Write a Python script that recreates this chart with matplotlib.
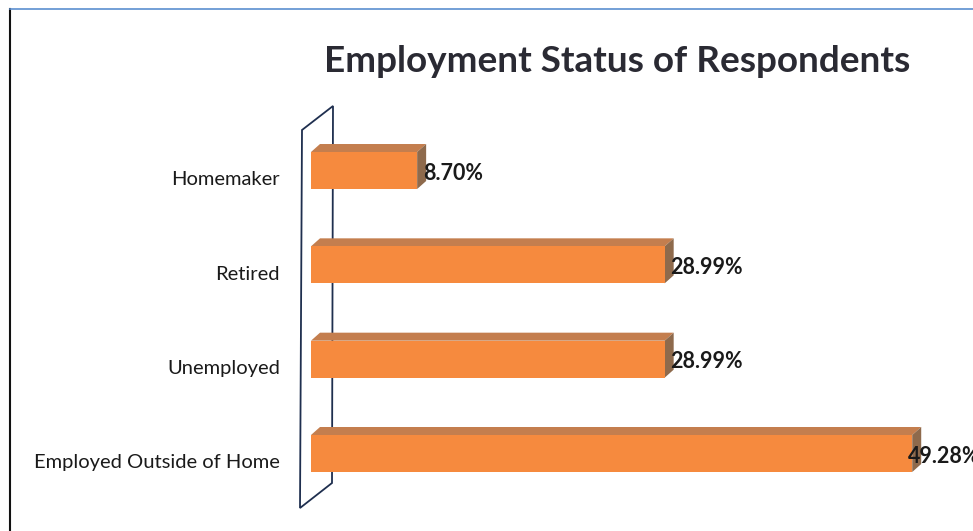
import matplotlib
matplotlib.use('Agg')
from matplotlib import pyplot as plt
from matplotlib.patches import Polygon

categories = ['Employed Outside of Home', 'Unemployed', 'Retired', 'Homemaker']
values = [49.28, 28.99, 28.99, 8.70]
value_labels = ['49.28%', '28.99%', '28.99%', '8.70%']

plt.rcParams['font.family'] = ['Lato', 'DejaVu Sans']

W, H = 973, 531
fig = plt.figure(figsize=(W / 100, H / 100), dpi=100)
ax = fig.add_axes([0, 0, 1, 1])

# pixel mapping: value 0 at x=311, 12.2 px per percent; category i centre at 453.5 - 94.33*i from top
px_per = 12.2
x0 = 311
row = 94.33
y_bottom = 453.5
ax.set_xlim(-x0 / px_per, (W - x0) / px_per)
ax.set_ylim((y_bottom - H) / row, y_bottom / row)
ax.axis('off')

def px(x, y):
    # figure pixels (from top) -> data coords
    return ((x - x0) / px_per, (y_bottom - y) / row)

front = '#F68A3E'
top = '#C47E4E'
side = '#8E6A4C'
bar_h = 37 / row
ddx = 9 / px_per
ddy = 8 / row

# back wall
wall = [px(302, 130), px(333, 106), px(332, 483), px(300, 508)]
ax.add_patch(Polygon(wall, closed=True, fill=False, edgecolor='#1F2F4F', lw=1.3, zorder=1))

for i, (cat, v, lab) in enumerate(zip(categories, values, value_labels)):
    y0 = i - bar_h / 2
    y1 = i + bar_h / 2
    ax.add_patch(Polygon([(0, y1), (v, y1), (v + ddx, y1 + ddy), (ddx, y1 + ddy)],
                         closed=True, facecolor=top, edgecolor='none', zorder=2))
    ax.add_patch(Polygon([(v, y0), (v + ddx, y0 + ddy), (v + ddx, y1 + ddy), (v, y1)],
                         closed=True, facecolor=side, edgecolor='none', zorder=2))
    ax.add_patch(Polygon([(0, y0), (v, y0), (v, y1), (0, y1)],
                         closed=True, facecolor=front, edgecolor='none', zorder=3))
    ax.text(-31 / px_per, i - 0.1, cat, ha='right', va='center', fontsize=14.5, color='#1a1a1a')
    lx = min(v + 0.45, 48.9)
    ax.text(lx, i - 0.03, lab, ha='left', va='center', fontsize=15.5, fontweight='bold',
            color='#1a1a1a', zorder=4)

# title
fig.text(617 / W, 1 - 62 / H, 'Employment Status of Respondents', ha='center', va='center',
         fontsize=26.6, fontweight='bold', color='#2a2a33')

# page frame
fig.add_artist(plt.Line2D([10 / W, 10 / W], [1 - 9 / H, 0], color='#111111', lw=1.5))
fig.add_artist(plt.Line2D([10 / W, 1], [1 - 9 / H, 1 - 9 / H], color='#5B8FD0', lw=1.2))

fig.savefig('out.png', dpi=100)
